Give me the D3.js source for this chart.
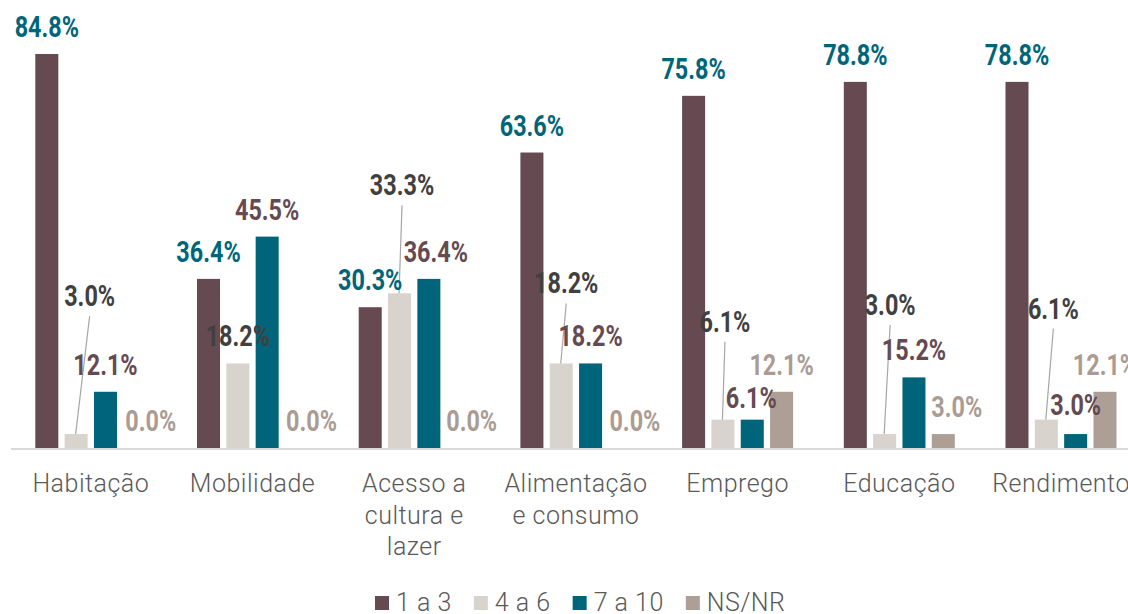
<!DOCTYPE html>
<html>
<head>
<meta charset="utf-8">
<script src="https://cdn.jsdelivr.net/npm/d3@7"></script>
<style>
  html, body { margin: 0; padding: 0; background: #fff; }
  svg { display: block; }
  .val { font-family: Roboto, "Noto Sans", sans-serif; font-weight: 700; font-size: 30px; }
  .cat, .leg { font-family: Roboto, "Open Sans", sans-serif; font-weight: 300; font-size: 25px; fill: #595959; letter-spacing: 0.5px; }
</style>
</head>
<body>
<svg id="chart" width="1128" height="614"></svg>
<script>
// Categories and series
const categories = ["Habitação", "Mobilidade", "Acesso a cultura e lazer", "Alimentação e consumo", "Emprego", "Educação", "Rendimento"];
const seriesNames = ["1 a 3", "4 a 6", "7 a 10", "NS/NR"];

// Share of answers (%) per category, one array per series
const values1a3  = [84.8, 36.4, 30.3, 63.6, 75.8, 78.8, 78.8];
const values4a6  = [3.0, 18.2, 33.3, 18.2, 6.1, 3.0, 6.1];
const values7a10 = [12.1, 45.5, 36.4, 18.2, 6.1, 15.2, 3.0];
const valuesNSNR = [0.0, 0.0, 0.0, 0.0, 12.1, 3.0, 12.1];
const seriesValues = [values1a3, values4a6, values7a10, valuesNSNR];

// Styling
const barColors   = ["#654a52", "#d9d3ce", "#00657a", "#ae9f96"];
const labelColors = ["#00657a", "#404040", "#654a52", "#ab9c93"];
const labelSquash = 0.78; // condensed look for the value labels

// Hand placement of value labels that would collide (dx, dy in px)
const labelNudge = {
  "Habitação|4 a 6": [13.5, -111],
  "Habitação|NS/NR": [16, 0],
  "Mobilidade|NS/NR": [15, 0],
  "Acesso a cultura e lazer|4 a 6": [2.5, -81],
  "Acesso a cultura e lazer|7 a 10": [7, 0],
  "Acesso a cultura e lazer|NS/NR": [13.5, 0],
  "Alimentação e consumo|4 a 6": [5, -53],
  "Alimentação e consumo|NS/NR": [15, 0],
  "Emprego|4 a 6": [2, -71],
  "Emprego|7 a 10": [-1, 5],
  "Educação|4 a 6": [5.5, -102],
  "Educação|NS/NR": [13.5, 0],
  "Rendimento|4 a 6": [7, -84],
  "Rendimento|7 a 10": [0, -2]
};

const svg = d3.select("#chart");
const baseY = 448;

const x0 = d3.scaleBand().domain(categories).range([10, 10 + 7 * 161.7]);
const x1 = d3.scaleBand().domain(seriesNames).range([25.3, 136.3]).paddingInner(0.215);
const y = d3.scaleLinear().domain([0, 90]).range([baseY, baseY - 90 * 4.646]);

const rows = [];
categories.forEach((c, ci) => {
  seriesNames.forEach((s, si) => {
    rows.push({ cat: c, ser: s, si, v: seriesValues[si][ci] });
  });
});

// Bars
svg.append("g").selectAll("rect.bar").data(rows).join("rect")
  .attr("class", "bar")
  .attr("x", d => x0(d.cat) + x1(d.ser))
  .attr("y", d => y(d.v))
  .attr("width", x1.bandwidth())
  .attr("height", d => y(0) - y(d.v))
  .attr("fill", d => barColors[d.si]);

// Baseline
svg.append("line")
  .attr("x1", 11).attr("x2", 1128)
  .attr("y1", baseY + 1).attr("y2", baseY + 1)
  .attr("stroke", "#d9d9d9").attr("stroke-width", 2);

// Value labels with leader lines where moved
rows.forEach(d => {
  const n = labelNudge[d.cat + "|" + d.ser] || [0, 0];
  d.cx = x0(d.cat) + x1(d.ser) + x1.bandwidth() / 2;
  d.lx = d.cx + n[0];
  d.ly = y(d.v) - 17 + n[1];
  d.leader = n[1] < -20;
});

svg.append("g").selectAll("line").data(rows.filter(d => d.leader)).join("line")
  .attr("x1", d => d.cx - 0.5).attr("y1", d => y(d.v))
  .attr("x2", d => d.lx).attr("y2", d => d.ly + 10)
  .attr("stroke", "#a6a6a6").attr("stroke-width", 1.2);

svg.append("g").selectAll("text").data(rows).join("text")
  .attr("class", "val")
  .attr("transform", d => `translate(${d.lx},${d.ly}) scale(${labelSquash},1)`)
  .attr("text-anchor", "middle")
  .attr("fill", d => labelColors[d.si])
  .text(d => d.v.toFixed(1) + "%");

// Category labels, wrapped to the band
const catG = svg.append("g");
categories.forEach(c => {
  const cx = x0(c) + x0.bandwidth() / 2;
  const t = catG.append("text").attr("class", "cat")
    .attr("x", cx).attr("y", 492)
    .attr("text-anchor", "middle");
  const words = c.split(" ");
  let line = [];
  let tspan = t.append("tspan").attr("x", cx).attr("dy", 0);
  words.forEach(w => {
    line.push(w);
    tspan.text(line.join(" "));
    if (tspan.node().getComputedTextLength() > 135 && line.length > 1) {
      line.pop();
      tspan.text(line.join(" "));
      line = [w];
      tspan = t.append("tspan").attr("x", cx).attr("dy", 31.7).text(w);
    }
  });
});

// Legend
const leg = svg.append("g");
let lx = 375;
seriesNames.forEach((s, i) => {
  leg.append("rect").attr("x", lx).attr("y", 596).attr("width", 14).attr("height", 14).attr("fill", barColors[i]);
  const t = leg.append("text").attr("class", "leg").attr("x", lx + 21).attr("y", 611).text(s);
  lx += 21 + t.node().getComputedTextLength() + 22;
});
</script>
</body>
</html>
